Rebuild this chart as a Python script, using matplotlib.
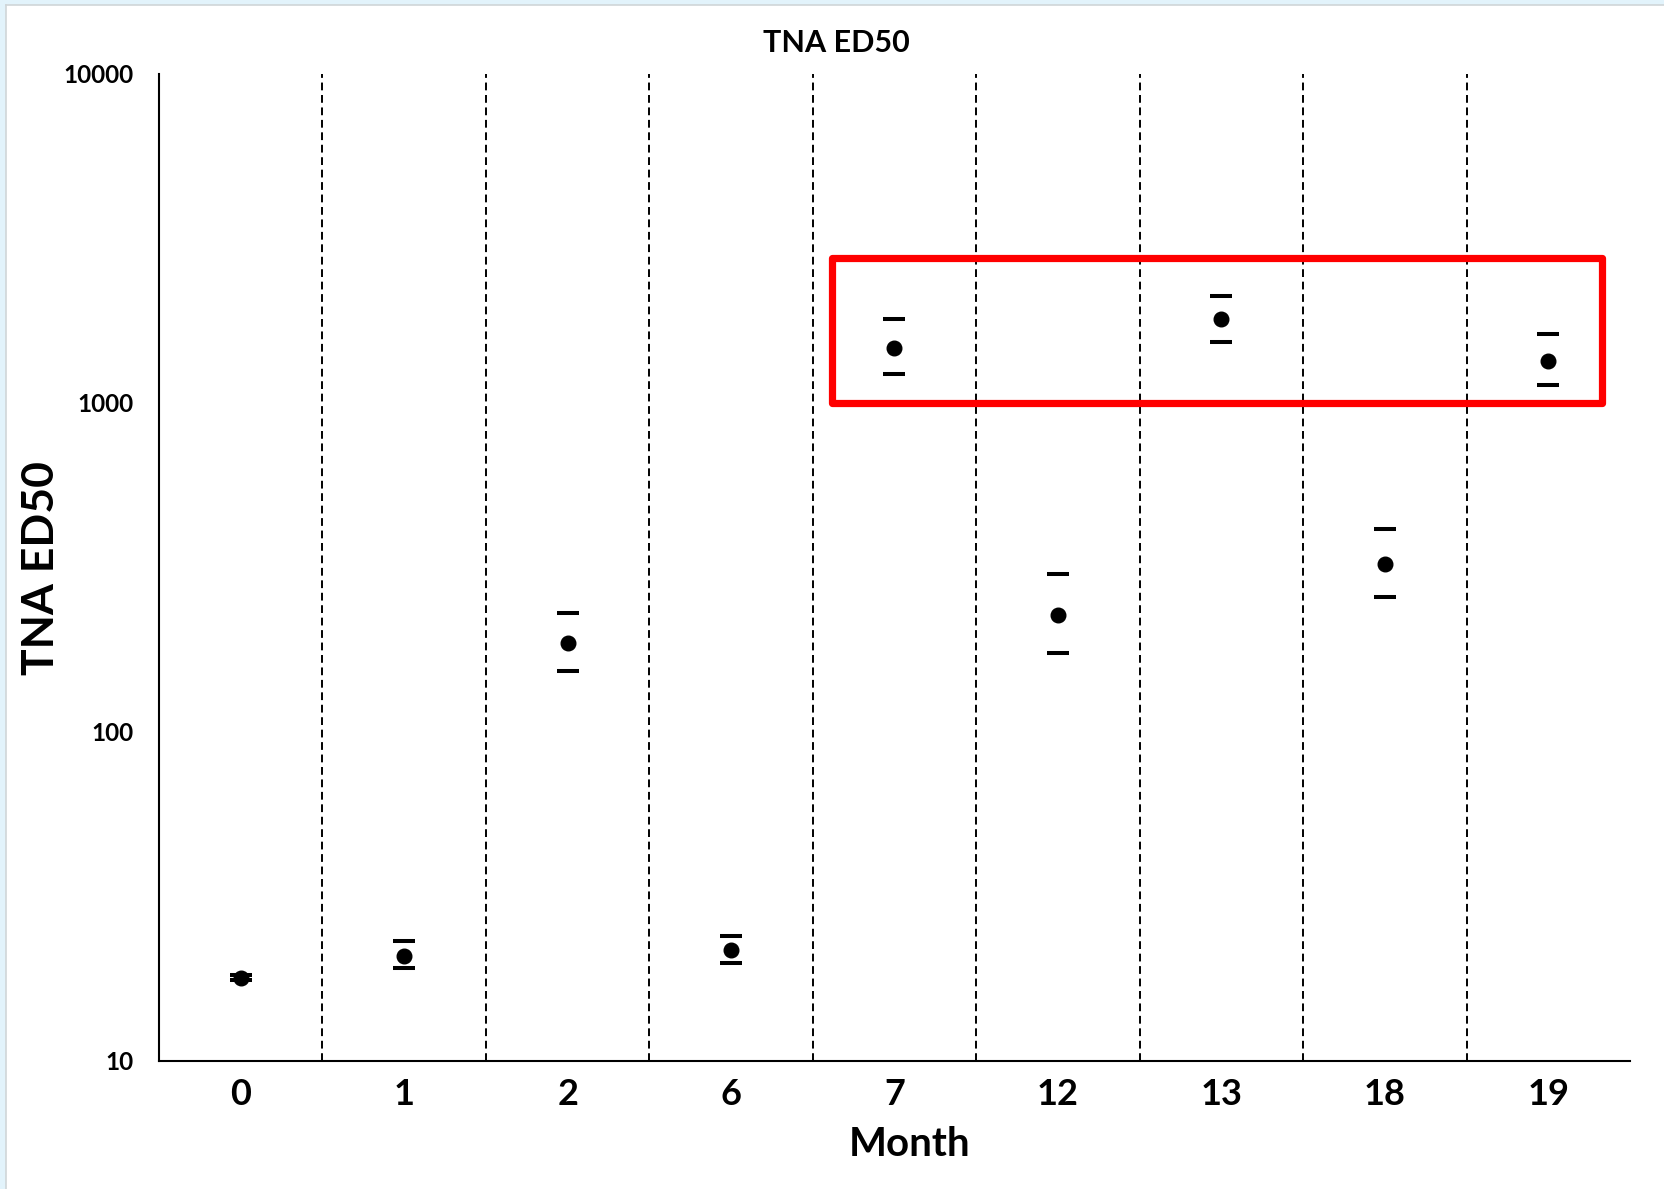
import matplotlib as mpl
mpl.use("Agg")
import matplotlib.pyplot as plt
from matplotlib.patches import Rectangle
from matplotlib.lines import Line2D
from matplotlib.ticker import FixedLocator, FixedFormatter, NullLocator
import numpy as np

plt.rcParams['font.family'] = ['Lato', 'DejaVu Sans']
plt.rcParams['font.weight'] = 'bold'

# TNA ED50 by month, with upper / lower bounds
months = ['0', '1', '2', '6', '7', '12', '13', '18', '19']
ed50 = [17.9, 20.9, 186, 21.7, 1468, 227, 1795, 324, 1343]
upper = [18.2, 23.2, 229, 24.0, 1795, 301, 2113, 414, 1617]
lower = [17.6, 19.2, 153, 19.8, 1219, 174, 1524, 256, 1132]
yticks = [10, 100, 1000, 10000]


def main():
    W, H = 1665, 1189
    fig = plt.figure(figsize=(W / 100, H / 100), dpi=100, facecolor='#e2f3fb')

    # white sheet with a thin grey edge top/left
    fig.patches.append(Rectangle((6 / W, 0), 1 - 6 / W, 1 - 5 / H,
                                 transform=fig.transFigure, facecolor='white',
                                 edgecolor='none', zorder=-10))
    fig.lines.append(Line2D([6 / W, 1], [1 - 5 / H, 1 - 5 / H], transform=fig.transFigure,
                            color='#cfd5d8', lw=1.2))
    fig.lines.append(Line2D([6 / W, 6 / W], [0, 1 - 5 / H], transform=fig.transFigure,
                            color='#cfd5d8', lw=1.2))

    ax = fig.add_axes([159 / W, 1 - 1061 / H, (1630 - 159) / W, (1061 - 73.5) / H])
    ax.set_facecolor('none')

    x = np.arange(len(months))
    y = np.array(ed50)
    yerr = [y - np.array(lower), np.array(upper) - y]
    ax.errorbar(x, y, yerr=yerr, fmt='o', color='black', ms=10.5,
                ecolor='black', elinewidth=0, capsize=7.8, capthick=2.9, zorder=3)

    ax.set_yscale('log')
    ax.set_ylim(10, 10000)
    ax.set_xlim(-0.5, len(months) - 0.5)

    # dashed separators between months
    for b in np.arange(0.5, len(months) - 0.5, 1.0):
        ax.axvline(b, color='black', lw=1.4, dashes=(4.0, 2.4), zorder=1)

    ax.yaxis.set_major_locator(FixedLocator(yticks))
    ax.yaxis.set_major_formatter(FixedFormatter([str(v) for v in yticks]))
    ax.yaxis.set_minor_locator(NullLocator())
    ax.set_xticks(x)
    ax.set_xticklabels(months)
    ax.tick_params(axis='y', length=0, pad=18.5, labelsize=17.5)
    ax.tick_params(axis='x', length=0, pad=12.5, labelsize=26)

    for s in ['top', 'right']:
        ax.spines[s].set_visible(False)
    for s in ['left', 'bottom']:
        ax.spines[s].set_linewidth(1.5)
        ax.spines[s].set_color('black')

    # highlight box around the high-titre months
    ax.add_patch(Rectangle((3.62, 995), 8.33 - 3.62, 2750 - 995, fill=False,
                           edgecolor='#ff0000', lw=5.2, joinstyle='round',
                           clip_on=False, zorder=4))

    fig.text(836.5 / W, 1 - 43 / H, 'TNA ED50', ha='center', va='center',
             fontsize=22, fontweight='bold')
    fig.text(41 / W, 1 - 568 / H, 'TNA ED50', ha='center', va='center',
             rotation=90, fontsize=32, fontweight='bold')
    fig.text(910 / W, 1 - 1145 / H, 'Month', ha='center', va='center',
             fontsize=29, fontweight='bold')

    fig.savefig('out.png', dpi=100, facecolor=fig.get_facecolor())


if __name__ == '__main__':
    main()
